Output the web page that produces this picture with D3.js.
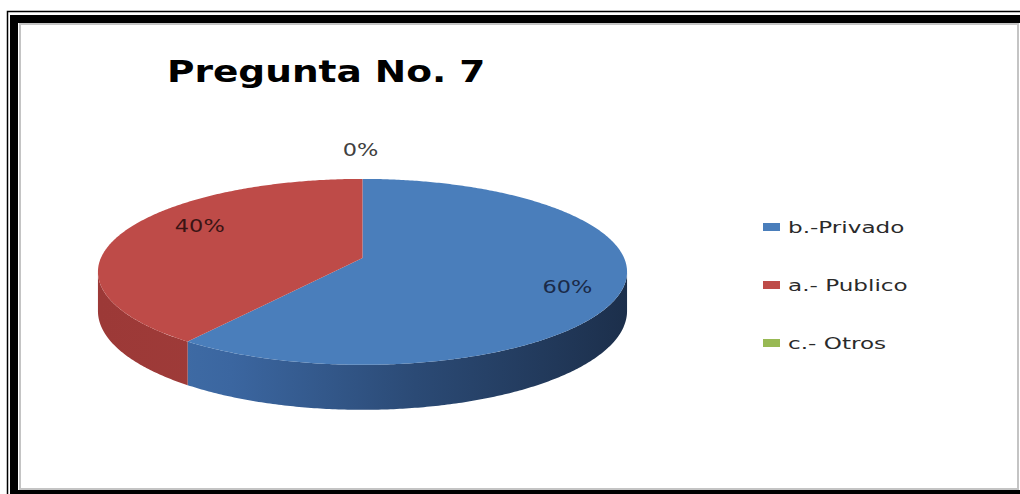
<!DOCTYPE html>
<html>
<head>
<meta charset="utf-8">
<script src="https://cdn.jsdelivr.net/npm/d3@7"></script>
<style>
  body { margin: 0; background: #fff; }
  svg { display: block; }
</style>
</head>
<body>
<div id="chart"></div>
<script>
// data
const categories = ["b.-Privado", "a.- Publico", "c.- Otros"];
const shares = [60, 40, 0];
const labels = ["60%", "40%", "0%"];
const title = "Pregunta No. 7";

// colours (top face, side gradient start/end)
const colors = ["#4a7ebb", "#be4b48", "#98b954"];
const sideStops = [["#4372ab", "#1c2f4b"], ["#9c3937", "#a8423f"], ["#7a9640", "#6a8434"]];

const W = 1020, H = 494;

const svg = d3.select("#chart")
  .append("svg")
  .attr("width", W)
  .attr("height", H);

// frame: thin outer line, thick black, thin grey inner line
svg.append("rect")
  .attr("x", 7.5).attr("y", 11.5)
  .attr("width", W + 20).attr("height", H + 20)
  .attr("fill", "none").attr("stroke", "#000").attr("stroke-width", 1.5);
svg.append("rect")
  .attr("x", 14).attr("y", 19)
  .attr("width", W + 20).attr("height", 475)
  .attr("fill", "none").attr("stroke", "#000").attr("stroke-width", 8);
svg.append("rect")
  .attr("x", 20).attr("y", 24)
  .attr("width", W - 2 - 20).attr("height", 465)
  .attr("fill", "none").attr("stroke", "#c4c4c4").attr("stroke-width", 2);

// title (the picture is stretched sideways, so the text is too)
svg.append("text")
  .attr("transform", "translate(167,82) scale(1.25,1)")
  .attr("font-family", "DejaVu Sans")
  .attr("font-weight", "bold")
  .attr("font-size", 30)
  .attr("fill", "#000")
  .text(title);

// perspective pie: angle t clockwise from 12 o'clock, r = fraction of radius
const cx = 362.5, cy = 258, A = 261.6, B = 90.9, k = 0.149, depth = 38.3;
function proj(t, r = 1, drop = 0) {
  const w = 1 + k * r * Math.cos(t);
  return [cx + A * r * Math.sin(t) / w, cy - B * r * Math.cos(t) / w + drop / w];
}

const pie = d3.pie().sort(null).value(d => d)
  .startAngle(0).endAngle(2 * Math.PI);
const arcs = pie(shares);

const line = d3.line();
function sample(a0, a1, r, drop) {
  const n = Math.max(2, Math.ceil((a1 - a0) / 0.01));
  return d3.range(n + 1).map(i => proj(a0 + (a1 - a0) * i / n, r, drop));
}

// gradients for the side walls
const defs = svg.append("defs");
sideStops.forEach((s, i) => {
  const g = defs.append("linearGradient")
    .attr("id", "side" + i)
    .attr("gradientUnits", "userSpaceOnUse")
    .attr("x1", 100).attr("x2", 627).attr("y1", 0).attr("y2", 0);
  g.append("stop").attr("offset", 0).attr("stop-color", s[0]);
  if (i == 0) {
    g.append("stop").attr("offset", 0.25).attr("stop-color", "#3b66a0");
    g.append("stop").attr("offset", 0.6).attr("stop-color", "#2b4a75");
  }
  g.append("stop").attr("offset", 1).attr("stop-color", s[1]);
});

// visible part of the wall is between the left and right extremes
const sideFrom = Math.acos(-k), sideTo = 2 * Math.PI - Math.acos(-k);

const pieG = svg.append("g");

arcs.forEach((d, i) => {
  const a0 = Math.max(d.startAngle, sideFrom), a1 = Math.min(d.endAngle, sideTo);
  if (a1 <= a0) return;
  const top = sample(a0, a1, 1, 0);
  const bottom = sample(a0, a1, 1, depth).reverse();
  pieG.append("path")
    .attr("d", line(top.concat(bottom)) + "Z")
    .attr("fill", `url(#side${i})`);
});

arcs.forEach((d, i) => {
  if (d.endAngle - d.startAngle <= 0) return;
  const pts = [proj(0, 0)].concat(sample(d.startAngle, d.endAngle, 1, 0));
  pieG.append("path")
    .attr("d", line(pts) + "Z")
    .attr("fill", colors[i]);
});

// percentage labels
const labelNudge = [[25, 9], [6, -13], [-2, 0]];
const labelColors = ["#1a2a48", "#3a1414", "#404040"];
arcs.forEach((d, i) => {
  const mid = (d.startAngle + d.endAngle) / 2;
  const r = d.value > 0 ? 0.7 : 1.45;
  const p = proj(mid, r);
  pieG.append("text")
    .attr("transform", `translate(${p[0] + labelNudge[i][0]},${p[1] + labelNudge[i][1] + 6}) scale(1.32,1)`)
    .attr("text-anchor", "middle")
    .attr("font-family", "DejaVu Sans")
    .attr("font-size", 17)
    .attr("fill", labelColors[i])
    .text(labels[i]);
});

// legend
const ly = d3.scalePoint().domain(categories).range([227, 343]);
const legend = svg.append("g");
legend.selectAll("rect")
  .data(categories)
  .join("rect")
  .attr("x", 763)
  .attr("y", d => ly(d) - 4)
  .attr("width", 17)
  .attr("height", 8)
  .attr("fill", (d, i) => colors[i]);
legend.selectAll("text")
  .data(categories)
  .join("text")
  .attr("transform", d => `translate(788,${ly(d) + 6}) scale(1.4,1)`)
  .attr("font-family", "DejaVu Sans")
  .attr("font-size", 16.5)
  .attr("fill", "#2a2a2a")
  .text(d => d);
</script>
</body>
</html>
